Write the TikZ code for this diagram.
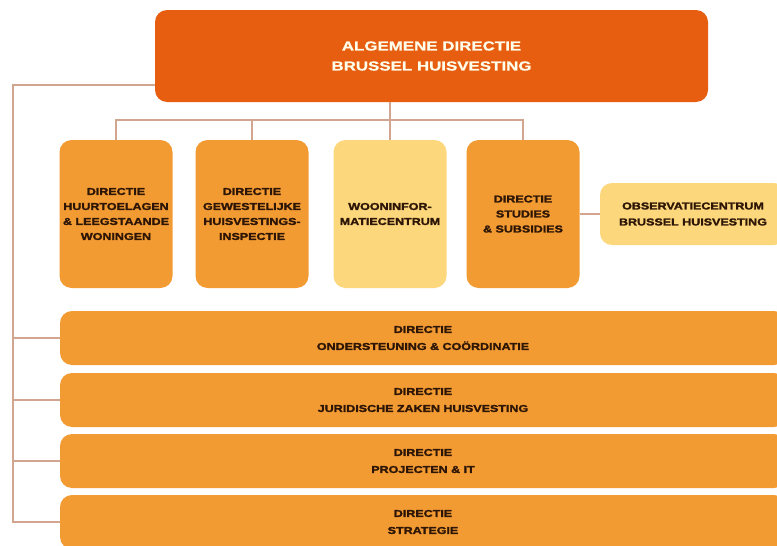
\documentclass[tikz,border=0pt]{standalone}
\usepackage{fontspec}
\setmainfont{Liberation Sans}
\newfontfamily\headfont[FakeStretch=1.3,FakeBold=1]{Liberation Sans Bold}
\newfontfamily\unitfont[FakeStretch=1.25,FakeBold=2]{Liberation Sans Bold}

\definecolor{topor}{HTML}{E85E10}
\definecolor{midor}{HTML}{F39B33}
\definecolor{lightyel}{HTML}{FCD77B}
\definecolor{linebr}{HTML}{D2A68E}
\definecolor{txtbr}{HTML}{2E1606}

\tikzset{
  unitbox/.style={rounded corners=12pt, fill=midor, text=txtbr, align=center, inner sep=0pt},
  tallbox/.style={unitbox, minimum width=113pt, minimum height=148pt, font=\unitfont\fontsize{10}{15}\selectfont},
  widebox/.style={unitbox, minimum width=726pt, minimum height=54pt, font=\unitfont\fontsize{10}{17}\selectfont},
  infobox/.style={fill=lightyel},
  link/.style={draw=linebr, line width=1.6pt},
}

\begin{document}
\begin{tikzpicture}[x=1pt,y=-1pt]
    \useasboundingbox (0,0) rectangle (777,546);
    \fill[white] (0,0) rectangle (777,546);
    \clip (0,0) rectangle (777,546);
    % Top
    \node (adg) at (431.5,56) [unitbox, fill=topor, text=white!92!yellow, minimum width=553pt, minimum height=92pt,
        font=\headfont\fontsize{13}{20}\selectfont] {ALGEMENE DIRECTIE\\BRUSSEL HUISVESTING};
    % Second row
    \node (huur) at (116,214) [tallbox] {DIRECTIE\\HUURTOELAGEN\\\& LEEGSTAANDE\\WONINGEN};
    \node (insp) at (252,214) [tallbox] {DIRECTIE\\GEWESTELIJKE\\HUISVESTINGS-\\INSPECTIE};
    \node (woon) at (390,214) [tallbox, infobox] {WOONINFOR-\\MATIECENTRUM};
    \node (stud) at (523,214) [tallbox] {DIRECTIE\\STUDIES\\\& SUBSIDIES};
    \node (obs) at (693,214) [unitbox, infobox, minimum width=186pt, minimum height=62pt,
        font=\unitfont\fontsize{10}{16}\selectfont] {OBSERVATIECENTRUM\\BRUSSEL HUISVESTING};
    % Wide rows
    \node (ond) at (423,338) [widebox] {DIRECTIE\\ONDERSTEUNING \& COÖRDINATIE};
    \node (jur) at (423,400) [widebox] {DIRECTIE\\JURIDISCHE ZAKEN HUISVESTING};
    \node (proj) at (423,461) [widebox] {DIRECTIE\\PROJECTEN \& IT};
    \node (strat) at (423,522) [widebox] {DIRECTIE\\STRATEGIE};
    % Links
    \coordinate (hub) at (390,120);
    \coordinate (trunk) at (13,85);
    \draw[link] (hub |- adg.south) -- (hub);
    \foreach \b in {huur,insp,woon,stud}
        \draw[link] (hub) -| (\b.north);
    \draw[link] (stud.east) -- (obs.west);
    \draw[link] (adg.west |- trunk) -- (trunk) |- (strat.west);
    \foreach \b in {ond,jur,proj}
        \draw[link] (trunk) |- (\b.west);
\end{tikzpicture}
\end{document}
